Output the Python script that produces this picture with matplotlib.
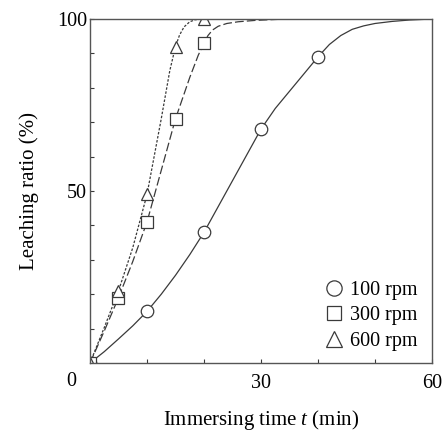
import matplotlib.pyplot as plt
from matplotlib.lines import Line2D

plt.rcParams['font.family'] = ['Liberation Serif', 'DejaVu Serif']
plt.rcParams['mathtext.fontset'] = 'custom'
plt.rcParams['mathtext.it'] = 'Liberation Serif:italic'
plt.rcParams['mathtext.rm'] = 'Liberation Serif'

# measured points (immersing time in min, leaching ratio in %)
t_100 = [0, 10, 20, 30, 40]
y_100 = [0, 15, 38, 68, 89]
t_300 = [0, 5, 10, 15, 20]
y_300 = [0, 19, 41, 71, 93]
t_600 = [0, 5, 10, 15, 20]
y_600 = [0, 21, 49, 92, 100]

# fitted curves
ct_100 = [0, 2.5, 5, 7.5, 10, 12.5, 15, 17.5, 20, 22.5, 25, 27.5, 30, 32.5, 35, 37.5,
          40, 42, 44, 46, 48, 50, 53, 56, 60]
cy_100 = [0, 3.3, 7, 10.8, 15, 20, 25.5, 31.5, 38, 45.5, 53, 60.5, 68, 74, 79, 84,
          89, 92.6, 95.2, 97, 98, 98.7, 99.3, 99.7, 100]
ct_300 = [0, 2.5, 5, 7.5, 10, 12.5, 15, 17.5, 19, 20, 20.7, 21.5, 22.5, 24, 26, 29, 33, 35]
cy_300 = [0, 9.3, 19, 29.5, 41, 56, 71, 83, 89.5, 93, 95.2, 96.8, 97.9, 98.7, 99.2, 99.6, 99.9, 100]
ct_600 = [0, 2.5, 5, 7.5, 10, 12.5, 14, 15, 15.7, 16.5, 17.5, 18.5, 20]
cy_600 = [0, 10.3, 21, 33.5, 49, 71, 85, 92, 95.3, 97.7, 99.2, 99.8, 100]

line_col = '#3a3a3a'
fs = 14.5
fs_lab = 15

fig = plt.figure(figsize=(4.44, 4.36), dpi=100)
ax = fig.add_axes([0.2027, 0.1674, 0.7703, 0.789])

ax.plot(ct_100, cy_100, color=line_col, lw=0.9, ls='-')
ax.plot(ct_300, cy_300, color=line_col, lw=0.9, ls=(0, (7, 2.5)))
ax.plot(ct_600, cy_600, color=line_col, lw=0.9, ls=(0, (2, 1.3)))

mk = dict(ls='none', mfc='white', mec=line_col, mew=0.9)
ax.plot(t_100, y_100, marker='o', ms=9, **mk)
ax.plot(t_300, y_300, marker='s', ms=8, **mk)
ax.plot(t_600, y_600, marker='^', ms=8.5, **mk)

ax.set_xlim(0, 60)
ax.set_ylim(0, 100)
ax.set_xticks([30, 60])
ax.set_xticks([10, 20, 40, 50], minor=True)
ax.set_yticks([50, 100])
ax.set_yticks([10, 20, 30, 40, 60, 70, 80, 90], minor=True)
ax.tick_params(which='both', direction='in', length=3, width=0.8,
               colors=line_col, labelcolor='black', labelsize=fs)
ax.tick_params(axis='x', pad=8)
ax.tick_params(axis='y', pad=2)
for s in ax.spines.values():
    s.set_color('#555555')
    s.set_linewidth(1.0)

ax.text(-0.055, -0.055, '0', transform=ax.transAxes, ha='center', va='center', fontsize=fs)

ax.set_xlabel('Immersing time $t$ (min)', fontsize=fs_lab, labelpad=11)
ax.set_ylabel('Leaching ratio (%)', fontsize=fs_lab, labelpad=13)

handles = [
    Line2D([], [], marker='o', ms=11, **mk),
    Line2D([], [], marker='s', ms=10, **mk),
    Line2D([], [], marker='^', ms=11, **mk),
]
ax.legend(handles, ['100 rpm', '300 rpm', '600 rpm'], loc='lower right',
          bbox_to_anchor=(1.0, -0.005), frameon=False, fontsize=fs,
          handlelength=0.8, handletextpad=0.4, labelspacing=0.3, borderaxespad=0.3)

fig.savefig('out.png', dpi=100)
